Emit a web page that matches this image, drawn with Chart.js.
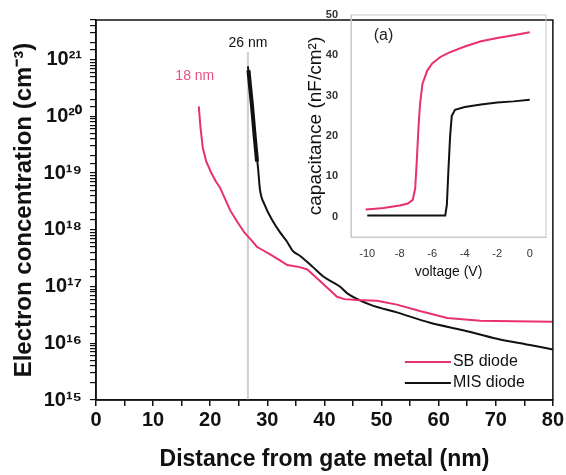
<!DOCTYPE html>
<html>
<head>
<meta charset="utf-8">
<script src="https://cdn.jsdelivr.net/npm/chart.js@4.4.0/dist/chart.umd.min.js"></script>
<style>
  html, body { margin: 0; padding: 0; background: #fff; }
  #wrap { position: relative; width: 566px; height: 475px; }
  #main { position: absolute; left: 0; top: 0; }
  #inset { position: absolute; left: 290px; top: 0; }
</style>
</head>
<body>
<div id="wrap">
  <canvas id="main" width="566" height="475"></canvas>
  <canvas id="inset" width="276" height="290"></canvas>
</div>
<script>
const FONT = "'Liberation Sans', Arial, sans-serif";
const PINK = '#e8306a';
const BLACK = '#111111';

// main plot: electron concentration vs distance
const sbDistance = [18.0, 18.1, 18.3, 18.7, 19.3, 20.2, 21.0, 21.7, 22.6, 23.5, 24.7, 26.0, 27.2, 28.2, 29.0, 30.5, 32.2, 33.5, 35.7, 37.0, 38.7, 40.5, 42.2, 43.5, 45.7, 49.2, 52.7, 56.7, 61.5, 67.3, 73.0, 80.0];
const sbConc = [1.5e20, 1.12e20, 6.3e19, 2.8e19, 1.6e19, 1.0e19, 7.1e18, 5.6e18, 3.5e18, 2.2e18, 1.4e18, 8.9e17, 6.6e17, 5.0e17, 4.5e17, 3.7e17, 2.9e17, 2.4e17, 2.2e17, 2.0e17, 1.4e17, 9.5e16, 6.6e16, 6.0e16, 5.8e16, 5.6e16, 4.8e16, 3.7e16, 2.8e16, 2.5e16, 2.45e16, 2.4e16];

const misDistance = [26.6, 27.0, 27.3, 27.8, 28.4, 28.7, 29.5, 31.0, 32.2, 33.4, 34.5, 35.7, 38.0, 39.8, 42.7, 44.0, 48.0, 52.7, 58.5, 64.3, 70.2, 76.0, 80.0];
const misConc = [7.6e20, 3.2e20, 1.6e20, 4.3e19, 1.15e19, 5.2e18, 2.8e18, 1.4e18, 9.1e17, 6.3e17, 4.2e17, 3.5e17, 2.2e17, 1.5e17, 1.0e17, 7.6e16, 4.8e16, 3.5e16, 2.3e16, 1.7e16, 1.2e16, 9.3e15, 7.8e15];

// thick noisy part at the top of the MIS curve
const misSpikeDistance = [26.7, 27.0, 27.3, 27.8, 28.2];
const misSpikeConc = [6.5e20, 3.2e20, 1.6e20, 4.3e19, 1.6e19];

const markerDistance = 26.6;
const xMin = 0, xMax = 80;
const yMin = 1e15, yMax = 5e21;

// inset: capacitance vs voltage
const sbVoltage = [-10.1, -9.5, -9, -8.5, -8, -7.5, -7.2, -7.05, -6.95, -6.85, -6.75, -6.6, -6.3, -6, -5.5, -5, -4, -3, -2, -1, 0];
const sbCap = [1.8, 2.0, 2.2, 2.5, 2.8, 3.3, 4.2, 7, 14, 22, 28, 33, 36.3, 38, 39.6, 40.6, 42.2, 43.5, 44.3, 45, 45.7];
const misVoltage = [-10.0, -5.2, -5.1, -5.0, -4.9, -4.8, -4.6, -4, -3, -2, -1, 0];
const misCap = [0.3, 0.3, 3, 12, 20, 25, 26.5, 27.2, 27.8, 28.3, 28.6, 29];
const insetVTicks = [-10, -8, -6, -4, -2, 0];
const insetCTicks = [0, 10, 20, 30, 40, 50];

const supDigits = '⁰¹²³⁴⁵⁶⁷⁸⁹';
function sup(n) {
  return String(n).split('').map(d => supDigits[+d]).join('');
}
function pts(xs, ys) {
  return xs.map((x, i) => ({ x: x, y: ys[i] }));
}

const decor = {
  id: 'decor',
  beforeDatasetsDraw(chart) {
    const { ctx, chartArea, scales } = chart;
    const px = scales.x.getPixelForValue(markerDistance);
    ctx.save();
    ctx.strokeStyle = '#cfcfcf';
    ctx.lineWidth = 2;
    ctx.beginPath();
    ctx.moveTo(px, chartArea.top + 32);
    ctx.lineTo(px, chartArea.bottom);
    ctx.stroke();
    ctx.restore();
  },
  afterDraw(chart) {
    const { ctx, chartArea, scales } = chart;
    ctx.save();
    ctx.strokeStyle = BLACK;
    ctx.lineWidth = 1.5;
    ctx.strokeRect(chartArea.left, chartArea.top, chartArea.right - chartArea.left, chartArea.bottom - chartArea.top);

    ctx.font = '14px ' + FONT;
    ctx.textAlign = 'center';
    ctx.textBaseline = 'middle';
    ctx.fillStyle = BLACK;
    ctx.fillText('26 nm', scales.x.getPixelForValue(markerDistance), scales.y.getPixelForValue(1.95e21));
    ctx.fillStyle = '#e8507e';
    ctx.fillText('18 nm', scales.x.getPixelForValue(17.3), scales.y.getPixelForValue(5.1e20));

    // legend
    let ly = chartArea.bottom - 38;
    chart.data.datasets.forEach(ds => {
      if (!ds.showInLegend) return;
      ctx.strokeStyle = ds.borderColor;
      ctx.lineWidth = 2;
      ctx.beginPath();
      ctx.moveTo(chartArea.right - 148, ly);
      ctx.lineTo(chartArea.right - 102, ly);
      ctx.stroke();
      ctx.fillStyle = BLACK;
      ctx.font = '16px ' + FONT;
      ctx.textAlign = 'left';
      ctx.fillText(ds.label, chartArea.right - 100, ly);
      ly += 21;
    });
    ctx.restore();
  }
};

new Chart(document.getElementById('main').getContext('2d'), {
  type: 'line',
  data: {
    datasets: [
      { label: 'SB diode', data: pts(sbDistance, sbConc), borderColor: PINK, borderWidth: 2, pointRadius: 0, tension: 0, showInLegend: true },
      { label: 'MIS diode', data: pts(misDistance, misConc), borderColor: BLACK, borderWidth: 2, pointRadius: 0, cubicInterpolationMode: 'monotone', showInLegend: true },
      { label: 'MIS spike', data: pts(misSpikeDistance, misSpikeConc), borderColor: BLACK, borderWidth: 4, pointRadius: 0, tension: 0 }
    ]
  },
  options: {
    responsive: false,
    animation: false,
    layout: { padding: { top: 8, right: 13, left: 0, bottom: 0 } },
    scales: {
      x: {
        type: 'linear', min: xMin, max: xMax,
        afterFit(s) { s.height = 75; },
        ticks: {
          stepSize: 5, autoSkip: false, maxRotation: 0, padding: 2, color: BLACK,
          font: { family: FONT, size: 20, weight: 'bold' },
          callback: v => (v % 10 === 0 ? String(v) : '')
        },
        grid: { drawOnChartArea: false, tickLength: 6, color: BLACK, lineWidth: 1.5 },
        border: { color: BLACK, width: 1.5 },
        title: {
          display: true, text: 'Distance from gate metal (nm)', color: BLACK,
          font: { family: FONT, size: 23, weight: 'bold' }, padding: { bottom: 2, top: 0 }
        }
      },
      y: {
        type: 'logarithmic', min: yMin, max: yMax,
        afterFit(s) { s.width = 96; },
        ticks: {
          autoSkip: false, padding: 8, color: BLACK,
          font: { family: FONT, size: 20, weight: 'bold' },
          callback: v => {
            const l = Math.log10(v);
            return Math.abs(l - Math.round(l)) < 1e-6 ? '10' + sup(Math.round(l)) : '';
          }
        },
        grid: { drawOnChartArea: false, tickLength: 6, color: BLACK, lineWidth: 1.2 },
        border: { color: BLACK, width: 1.5 },
        title: {
          display: true, text: 'Electron concentration (cm⁻³)', color: BLACK,
          font: { family: FONT, size: 24, weight: 'bold' }, padding: { top: 10, bottom: 0 }
        }
      }
    },
    plugins: { legend: { display: false }, tooltip: { enabled: false } }
  },
  plugins: [decor]
});

const insetDecor = {
  id: 'insetDecor',
  afterDraw(chart) {
    const { ctx, chartArea, scales } = chart;
    ctx.save();
    ctx.strokeStyle = '#c8c8c8';
    ctx.lineWidth = 1;
    ctx.strokeRect(chartArea.left, chartArea.top, chartArea.right - chartArea.left, chartArea.bottom - chartArea.top);
    ctx.fillStyle = '#222';
    ctx.font = '16px ' + FONT;
    ctx.textAlign = 'center';
    ctx.textBaseline = 'middle';
    ctx.fillText('(a)', scales.x.getPixelForValue(-9.0), scales.y.getPixelForValue(45));
    ctx.restore();
  }
};

new Chart(document.getElementById('inset').getContext('2d'), {
  type: 'line',
  data: {
    datasets: [
      { label: 'SB diode', data: pts(sbVoltage, sbCap), borderColor: PINK, borderWidth: 2, pointRadius: 0, tension: 0 },
      { label: 'MIS diode', data: pts(misVoltage, misCap), borderColor: BLACK, borderWidth: 2, pointRadius: 0, tension: 0 }
    ]
  },
  options: {
    responsive: false,
    animation: false,
    layout: { padding: { top: 15, right: 20, left: 0, bottom: 0 } },
    scales: {
      x: {
        type: 'linear', min: -11, max: 1,
        afterBuildTicks(s) { s.ticks = insetVTicks.map(v => ({ value: v })); },
        afterFit(s) { s.height = 53; },
        ticks: { padding: 2, color: '#333', maxRotation: 0, font: { family: FONT, size: 11 } },
        grid: { display: false },
        border: { color: '#c8c8c8', width: 1 },
        title: {
          display: true, text: 'voltage (V)', color: BLACK,
          font: { family: FONT, size: 14 }, padding: { bottom: 9, top: 0 }
        }
      },
      y: {
        type: 'linear', min: -5, max: 50,
        afterBuildTicks(s) { s.ticks = insetCTicks.map(v => ({ value: v })); },
        afterFit(s) { s.width = 61; },
        ticks: { padding: 5, color: '#333', font: { family: FONT, size: 11, weight: 'bold' } },
        grid: { display: false },
        border: { color: '#c8c8c8', width: 1 },
        title: {
          display: true, text: 'capacitance (nF/cm²)', color: BLACK,
          font: { family: FONT, size: 19 }, padding: { top: 14, bottom: 0 }
        }
      }
    },
    plugins: { legend: { display: false }, tooltip: { enabled: false } }
  },
  plugins: [insetDecor]
});
</script>
</body>
</html>
